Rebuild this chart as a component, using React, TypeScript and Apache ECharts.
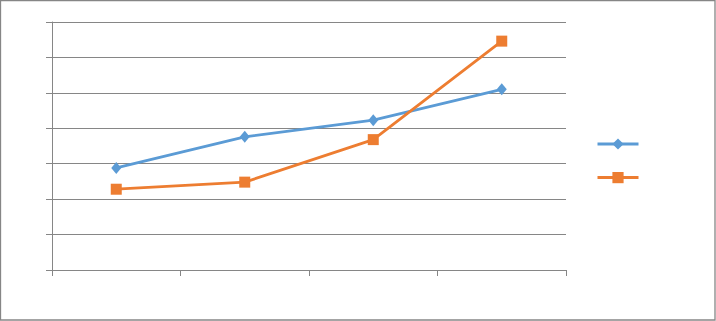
import React, { useEffect, useRef } from "react";
import * as echarts from "echarts";

const categories = ["1", "2", "3", "4"];
const seriesNames = ["Series 1", "Series 2"];
const series1Values = [2.88, 3.76, 4.23, 5.1];
const series2Values = [2.28, 2.48, 3.68, 6.46];

const GRAY = "#868686";

export default function App() {
  const ref = useRef<HTMLDivElement>(null);
  useEffect(() => {
    document.body.style.margin = "0";
    const chart = echarts.init(ref.current!, null, { renderer: "svg" });
    chart.setOption({
      animation: false,
      backgroundColor: "#ffffff",
      graphic: [
        {
          type: "rect",
          shape: { x: 0.5, y: 0.5, width: 714.5, height: 319.5 },
          style: { fill: "none", stroke: GRAY, lineWidth: 1.3 },
          silent: true,
        },
      ],
      grid: { left: 52, right: 150, top: 22, bottom: 51 },
      legend: {
        orient: "vertical",
        left: 591,
        top: 132,
        itemWidth: 41,
        itemHeight: 14,
        itemGap: 21,
        formatter: () => "",
        data: seriesNames,
        selectedMode: false,
        lineStyle: { width: 3 },
      },
      xAxis: {
        type: "category",
        data: categories,
        boundaryGap: true,
        axisLine: { lineStyle: { color: GRAY, width: 1 } },
        axisTick: { show: true, length: 6, lineStyle: { color: GRAY } },
        axisLabel: { show: false },
        splitLine: { show: false },
      },
      yAxis: {
        type: "value",
        min: 0,
        max: 7,
        interval: 1,
        axisLine: { show: true, lineStyle: { color: GRAY, width: 1 } },
        axisTick: { show: true, length: 6, lineStyle: { color: GRAY } },
        axisLabel: { show: false },
        splitLine: { show: true, lineStyle: { color: GRAY, width: 1 } },
      },
      series: [
        {
          name: seriesNames[0],
          type: "line",
          data: series1Values,
          symbol: "diamond",
          symbolSize: [10, 12],
          color: "#5B9BD5",
          lineStyle: { width: 2.8, color: "#5B9BD5" },
          itemStyle: { color: "#5B9BD5" },
        },
        {
          name: seriesNames[1],
          type: "line",
          data: series2Values,
          symbol: "rect",
          symbolSize: 11,
          color: "#ED7D31",
          lineStyle: { width: 2.8, color: "#ED7D31" },
          itemStyle: { color: "#ED7D31" },
        },
      ],
    });
    return () => chart.dispose();
  }, []);
  return <div ref={ref} style={{ width: 716, height: 321 }} />;
}
